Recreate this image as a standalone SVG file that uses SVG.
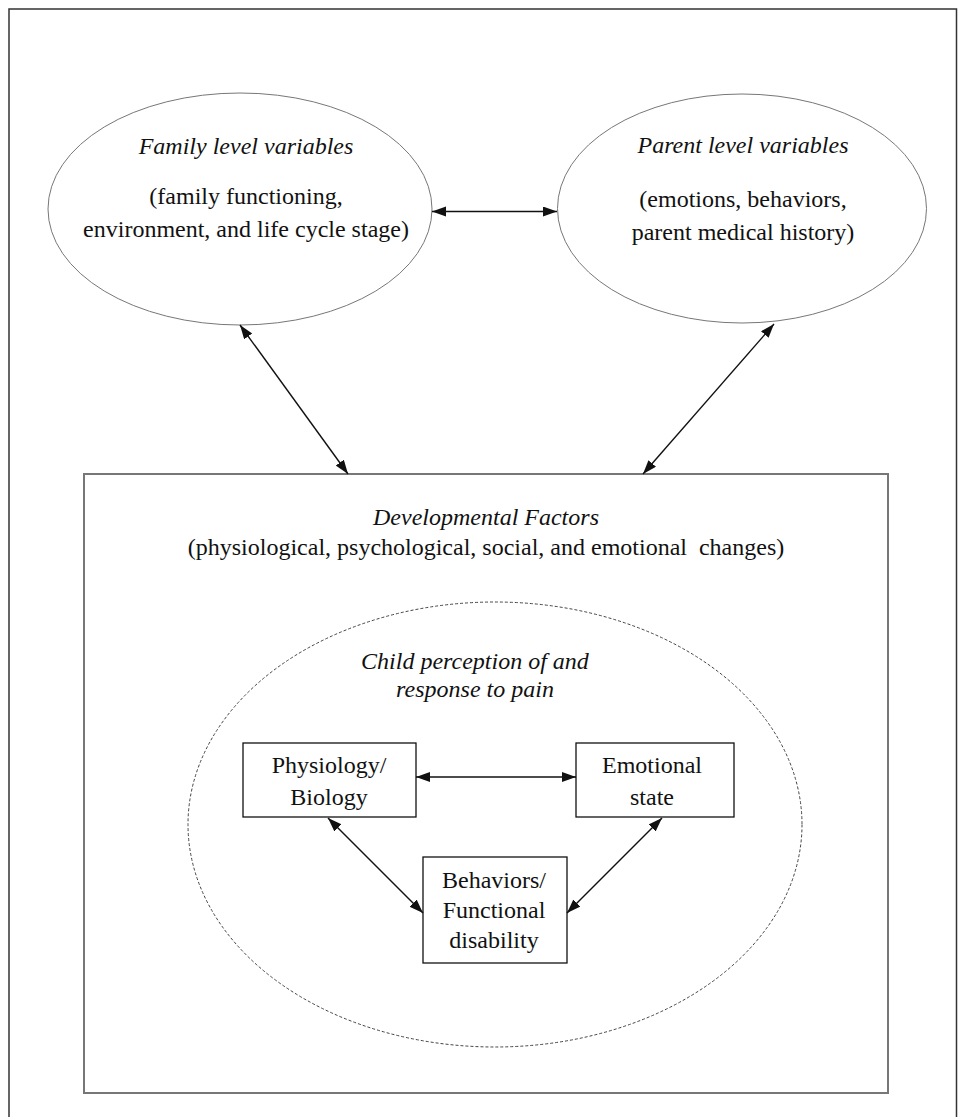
<svg xmlns="http://www.w3.org/2000/svg" width="958" height="1117" viewBox="0 0 958 1117">
<style>
text{font-family:"Liberation Serif","Times New Roman",serif;font-size:24px;fill:#111;text-anchor:middle}
.it{font-style:italic}
.oval{fill:#fff;stroke:#777;stroke-width:1}
.box{fill:#fff;stroke:#111;stroke-width:1.3}
.conn line{stroke:#111;stroke-width:1.4;marker-start:url(#ah);marker-end:url(#ah)}
</style>
<defs>
<marker id="ah" markerUnits="userSpaceOnUse" markerWidth="15" markerHeight="11" refX="14" refY="5" orient="auto-start-reverse">
<path d="M0,0 L14,5 L0,10 z" fill="#111"/>
</marker>
</defs>
<rect width="958" height="1117" fill="#fff"/>
<rect id="frame" x="9" y="9" width="947.5" height="1200" fill="none" stroke="#333" stroke-width="1.5"/>

<g id="family">
<ellipse class="oval" cx="240" cy="209" rx="192" ry="116"/>
<text class="it" x="246" y="154">Family level variables</text>
<text x="246" y="204">(family functioning,</text>
<text x="246" y="237">environment, and life cycle stage)</text>
</g>

<g id="parent">
<ellipse class="oval" cx="742" cy="208.5" rx="184.5" ry="114.5"/>
<text class="it" x="743" y="153">Parent level variables</text>
<text x="743" y="207">(emotions, behaviors,</text>
<text x="743" y="240">parent medical history)</text>
</g>

<g id="developmental">
<rect x="84" y="474" width="804" height="619" fill="none" stroke="#777" stroke-width="2"/>
<text class="it" x="486" y="525">Developmental Factors</text>
<text x="486" y="555" style="white-space:pre">(physiological, psychological, social, and emotional  changes)</text>
</g>

<g id="child">
<ellipse cx="495" cy="824.5" rx="307" ry="222.5" fill="none" stroke="#444" stroke-width="1" stroke-dasharray="3 2"/>
<text class="it" x="475" y="669">Child perception of and</text>
<text class="it" x="475" y="697">response to pain</text>
</g>

<g id="physiology">
<rect class="box" x="243" y="743" width="173" height="74"/>
<text x="329" y="773">Physiology/</text>
<text x="329" y="805">Biology</text>
</g>

<g id="emotional">
<rect class="box" x="576" y="743" width="158" height="74"/>
<text x="652" y="773">Emotional</text>
<text x="652" y="805">state</text>
</g>

<g id="behaviors">
<rect class="box" x="423" y="857" width="144" height="106"/>
<text x="494" y="888">Behaviors/</text>
<text x="494" y="918">Functional</text>
<text x="494" y="948">disability</text>
</g>

<g id="connectors" class="conn">
<line x1="432" y1="211.5" x2="557" y2="211.5"/>
<line x1="240" y1="325" x2="348" y2="474"/>
<line x1="774" y1="324" x2="643" y2="474"/>
<line x1="416" y1="777" x2="576" y2="777"/>
<line x1="328" y1="818" x2="423" y2="913"/>
<line x1="662" y1="818" x2="567" y2="913"/>
</g>
</svg>
